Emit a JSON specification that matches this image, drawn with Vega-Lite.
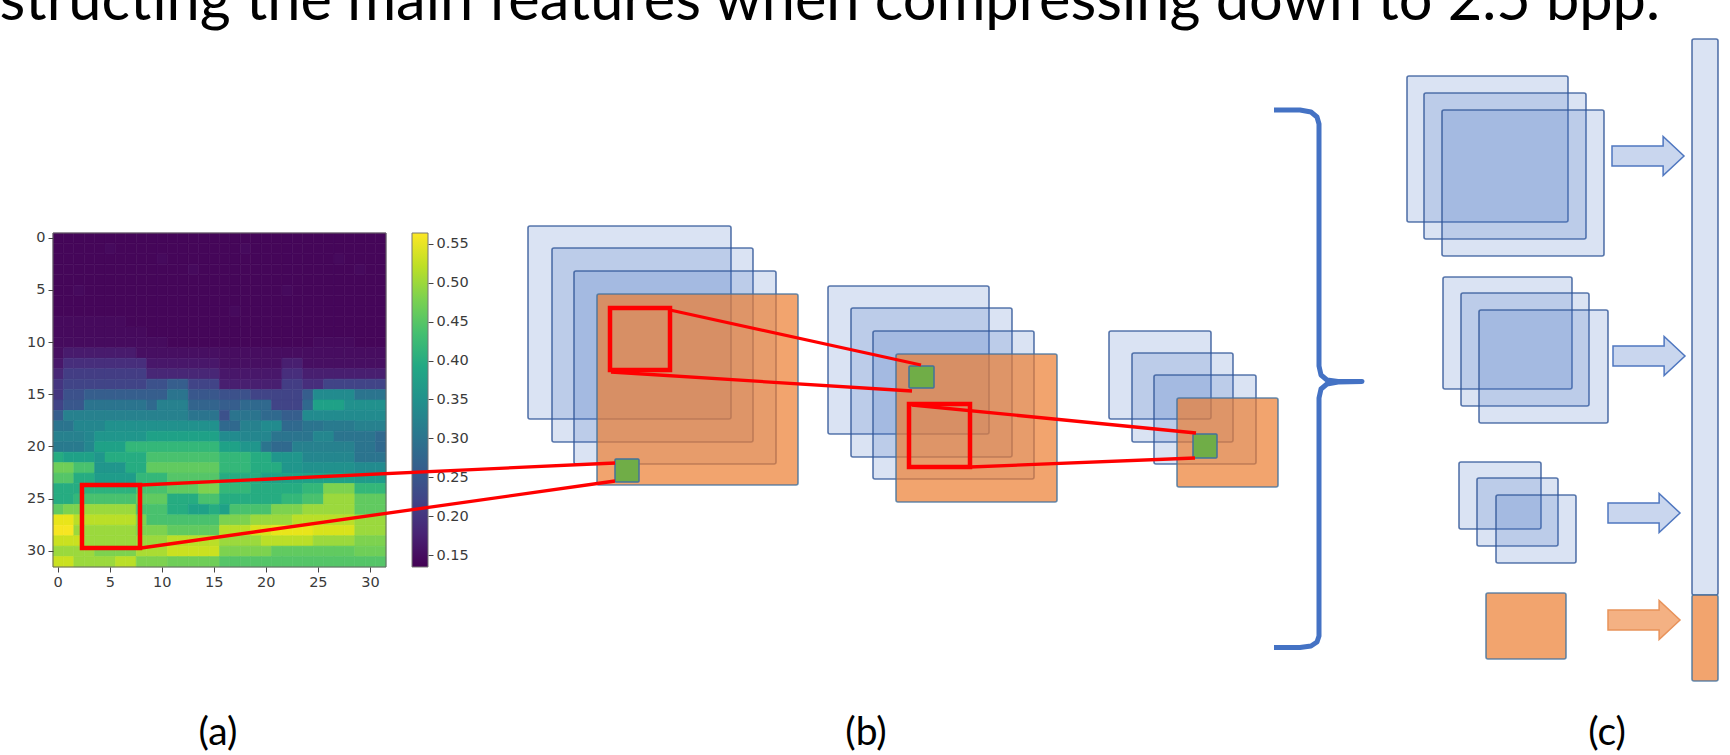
{
"$schema":"https://vega.github.io/schema/vega-lite/v6.json",
"width":1730,"height":755,"padding":0,"autosize":{"type":"none"},
"background":"#ffffff",
"config":{"view":{"stroke":null},"axis":{"grid":false}},
"datasets":{
"heat":[
{"r":0,"c":0,"v":0.14},{"r":0,"c":1,"v":0.14},{"r":0,"c":2,"v":0.14},{"r":0,"c":3,"v":0.14},{"r":0,"c":4,"v":0.14},{"r":0,"c":5,"v":0.14},{"r":0,"c":6,"v":0.14},{"r":0,"c":7,"v":0.14},{"r":0,"c":8,"v":0.14},{"r":0,"c":9,"v":0.14},{"r":0,"c":10,"v":0.14},{"r":0,"c":11,"v":0.14},{"r":0,"c":12,"v":0.14},{"r":0,"c":13,"v":0.14},{"r":0,"c":14,"v":0.14},{"r":0,"c":15,"v":0.14},{"r":0,"c":16,"v":0.14},{"r":0,"c":17,"v":0.14},{"r":0,"c":18,"v":0.14},{"r":0,"c":19,"v":0.14},{"r":0,"c":20,"v":0.14},{"r":0,"c":21,"v":0.14},{"r":0,"c":22,"v":0.14},{"r":0,"c":23,"v":0.14},{"r":0,"c":24,"v":0.14},{"r":0,"c":25,"v":0.14},{"r":0,"c":26,"v":0.14},{"r":0,"c":27,"v":0.14},{"r":0,"c":28,"v":0.14},{"r":0,"c":29,"v":0.14},{"r":0,"c":30,"v":0.14},{"r":0,"c":31,"v":0.14},
{"r":1,"c":0,"v":0.14},{"r":1,"c":1,"v":0.14},{"r":1,"c":2,"v":0.14},{"r":1,"c":3,"v":0.14},{"r":1,"c":4,"v":0.14},{"r":1,"c":5,"v":0.144},{"r":1,"c":6,"v":0.14},{"r":1,"c":7,"v":0.14},{"r":1,"c":8,"v":0.14},{"r":1,"c":9,"v":0.14},{"r":1,"c":10,"v":0.14},{"r":1,"c":11,"v":0.14},{"r":1,"c":12,"v":0.14},{"r":1,"c":13,"v":0.14},{"r":1,"c":14,"v":0.14},{"r":1,"c":15,"v":0.14},{"r":1,"c":16,"v":0.14},{"r":1,"c":17,"v":0.14},{"r":1,"c":18,"v":0.144},{"r":1,"c":19,"v":0.14},{"r":1,"c":20,"v":0.14},{"r":1,"c":21,"v":0.14},{"r":1,"c":22,"v":0.14},{"r":1,"c":23,"v":0.14},{"r":1,"c":24,"v":0.14},{"r":1,"c":25,"v":0.14},{"r":1,"c":26,"v":0.14},{"r":1,"c":27,"v":0.14},{"r":1,"c":28,"v":0.14},{"r":1,"c":29,"v":0.14},{"r":1,"c":30,"v":0.14},{"r":1,"c":31,"v":0.14},
{"r":2,"c":0,"v":0.14},{"r":2,"c":1,"v":0.14},{"r":2,"c":2,"v":0.14},{"r":2,"c":3,"v":0.14},{"r":2,"c":4,"v":0.14},{"r":2,"c":5,"v":0.14},{"r":2,"c":6,"v":0.14},{"r":2,"c":7,"v":0.14},{"r":2,"c":8,"v":0.14},{"r":2,"c":9,"v":0.14},{"r":2,"c":10,"v":0.144},{"r":2,"c":11,"v":0.14},{"r":2,"c":12,"v":0.14},{"r":2,"c":13,"v":0.14},{"r":2,"c":14,"v":0.14},{"r":2,"c":15,"v":0.14},{"r":2,"c":16,"v":0.14},{"r":2,"c":17,"v":0.14},{"r":2,"c":18,"v":0.14},{"r":2,"c":19,"v":0.14},{"r":2,"c":20,"v":0.14},{"r":2,"c":21,"v":0.14},{"r":2,"c":22,"v":0.14},{"r":2,"c":23,"v":0.14},{"r":2,"c":24,"v":0.14},{"r":2,"c":25,"v":0.14},{"r":2,"c":26,"v":0.14},{"r":2,"c":27,"v":0.144},{"r":2,"c":28,"v":0.14},{"r":2,"c":29,"v":0.14},{"r":2,"c":30,"v":0.14},{"r":2,"c":31,"v":0.14},
{"r":3,"c":0,"v":0.14},{"r":3,"c":1,"v":0.14},{"r":3,"c":2,"v":0.14},{"r":3,"c":3,"v":0.14},{"r":3,"c":4,"v":0.14},{"r":3,"c":5,"v":0.14},{"r":3,"c":6,"v":0.14},{"r":3,"c":7,"v":0.14},{"r":3,"c":8,"v":0.14},{"r":3,"c":9,"v":0.14},{"r":3,"c":10,"v":0.14},{"r":3,"c":11,"v":0.14},{"r":3,"c":12,"v":0.14},{"r":3,"c":13,"v":0.144},{"r":3,"c":14,"v":0.14},{"r":3,"c":15,"v":0.14},{"r":3,"c":16,"v":0.14},{"r":3,"c":17,"v":0.14},{"r":3,"c":18,"v":0.14},{"r":3,"c":19,"v":0.14},{"r":3,"c":20,"v":0.14},{"r":3,"c":21,"v":0.14},{"r":3,"c":22,"v":0.14},{"r":3,"c":23,"v":0.14},{"r":3,"c":24,"v":0.14},{"r":3,"c":25,"v":0.14},{"r":3,"c":26,"v":0.14},{"r":3,"c":27,"v":0.14},{"r":3,"c":28,"v":0.14},{"r":3,"c":29,"v":0.144},{"r":3,"c":30,"v":0.14},{"r":3,"c":31,"v":0.14},
{"r":4,"c":0,"v":0.14},{"r":4,"c":1,"v":0.14},{"r":4,"c":2,"v":0.14},{"r":4,"c":3,"v":0.14},{"r":4,"c":4,"v":0.14},{"r":4,"c":5,"v":0.14},{"r":4,"c":6,"v":0.14},{"r":4,"c":7,"v":0.14},{"r":4,"c":8,"v":0.14},{"r":4,"c":9,"v":0.14},{"r":4,"c":10,"v":0.14},{"r":4,"c":11,"v":0.14},{"r":4,"c":12,"v":0.14},{"r":4,"c":13,"v":0.14},{"r":4,"c":14,"v":0.14},{"r":4,"c":15,"v":0.14},{"r":4,"c":16,"v":0.14},{"r":4,"c":17,"v":0.14},{"r":4,"c":18,"v":0.14},{"r":4,"c":19,"v":0.14},{"r":4,"c":20,"v":0.14},{"r":4,"c":21,"v":0.14},{"r":4,"c":22,"v":0.14},{"r":4,"c":23,"v":0.14},{"r":4,"c":24,"v":0.14},{"r":4,"c":25,"v":0.14},{"r":4,"c":26,"v":0.14},{"r":4,"c":27,"v":0.14},{"r":4,"c":28,"v":0.14},{"r":4,"c":29,"v":0.14},{"r":4,"c":30,"v":0.14},{"r":4,"c":31,"v":0.14},
{"r":5,"c":0,"v":0.14},{"r":5,"c":1,"v":0.14},{"r":5,"c":2,"v":0.144},{"r":5,"c":3,"v":0.14},{"r":5,"c":4,"v":0.14},{"r":5,"c":5,"v":0.14},{"r":5,"c":6,"v":0.14},{"r":5,"c":7,"v":0.14},{"r":5,"c":8,"v":0.14},{"r":5,"c":9,"v":0.14},{"r":5,"c":10,"v":0.14},{"r":5,"c":11,"v":0.14},{"r":5,"c":12,"v":0.14},{"r":5,"c":13,"v":0.14},{"r":5,"c":14,"v":0.14},{"r":5,"c":15,"v":0.14},{"r":5,"c":16,"v":0.14},{"r":5,"c":17,"v":0.14},{"r":5,"c":18,"v":0.14},{"r":5,"c":19,"v":0.14},{"r":5,"c":20,"v":0.14},{"r":5,"c":21,"v":0.14},{"r":5,"c":22,"v":0.144},{"r":5,"c":23,"v":0.14},{"r":5,"c":24,"v":0.14},{"r":5,"c":25,"v":0.14},{"r":5,"c":26,"v":0.14},{"r":5,"c":27,"v":0.14},{"r":5,"c":28,"v":0.14},{"r":5,"c":29,"v":0.14},{"r":5,"c":30,"v":0.14},{"r":5,"c":31,"v":0.14},
{"r":6,"c":0,"v":0.14},{"r":6,"c":1,"v":0.14},{"r":6,"c":2,"v":0.14},{"r":6,"c":3,"v":0.14},{"r":6,"c":4,"v":0.14},{"r":6,"c":5,"v":0.14},{"r":6,"c":6,"v":0.14},{"r":6,"c":7,"v":0.14},{"r":6,"c":8,"v":0.14},{"r":6,"c":9,"v":0.14},{"r":6,"c":10,"v":0.14},{"r":6,"c":11,"v":0.14},{"r":6,"c":12,"v":0.14},{"r":6,"c":13,"v":0.14},{"r":6,"c":14,"v":0.14},{"r":6,"c":15,"v":0.14},{"r":6,"c":16,"v":0.14},{"r":6,"c":17,"v":0.14},{"r":6,"c":18,"v":0.14},{"r":6,"c":19,"v":0.14},{"r":6,"c":20,"v":0.14},{"r":6,"c":21,"v":0.14},{"r":6,"c":22,"v":0.14},{"r":6,"c":23,"v":0.14},{"r":6,"c":24,"v":0.14},{"r":6,"c":25,"v":0.14},{"r":6,"c":26,"v":0.14},{"r":6,"c":27,"v":0.14},{"r":6,"c":28,"v":0.14},{"r":6,"c":29,"v":0.14},{"r":6,"c":30,"v":0.14},{"r":6,"c":31,"v":0.14},
{"r":7,"c":0,"v":0.14},{"r":7,"c":1,"v":0.14},{"r":7,"c":2,"v":0.14},{"r":7,"c":3,"v":0.14},{"r":7,"c":4,"v":0.14},{"r":7,"c":5,"v":0.14},{"r":7,"c":6,"v":0.14},{"r":7,"c":7,"v":0.14},{"r":7,"c":8,"v":0.14},{"r":7,"c":9,"v":0.14},{"r":7,"c":10,"v":0.14},{"r":7,"c":11,"v":0.14},{"r":7,"c":12,"v":0.14},{"r":7,"c":13,"v":0.14},{"r":7,"c":14,"v":0.14},{"r":7,"c":15,"v":0.14},{"r":7,"c":16,"v":0.14},{"r":7,"c":17,"v":0.144},{"r":7,"c":18,"v":0.14},{"r":7,"c":19,"v":0.14},{"r":7,"c":20,"v":0.14},{"r":7,"c":21,"v":0.14},{"r":7,"c":22,"v":0.14},{"r":7,"c":23,"v":0.14},{"r":7,"c":24,"v":0.14},{"r":7,"c":25,"v":0.14},{"r":7,"c":26,"v":0.14},{"r":7,"c":27,"v":0.14},{"r":7,"c":28,"v":0.14},{"r":7,"c":29,"v":0.14},{"r":7,"c":30,"v":0.14},{"r":7,"c":31,"v":0.14},
{"r":8,"c":0,"v":0.144},{"r":8,"c":1,"v":0.144},{"r":8,"c":2,"v":0.144},{"r":8,"c":3,"v":0.144},{"r":8,"c":4,"v":0.144},{"r":8,"c":5,"v":0.144},{"r":8,"c":6,"v":0.144},{"r":8,"c":7,"v":0.14},{"r":8,"c":8,"v":0.14},{"r":8,"c":9,"v":0.14},{"r":8,"c":10,"v":0.14},{"r":8,"c":11,"v":0.14},{"r":8,"c":12,"v":0.14},{"r":8,"c":13,"v":0.14},{"r":8,"c":14,"v":0.14},{"r":8,"c":15,"v":0.14},{"r":8,"c":16,"v":0.14},{"r":8,"c":17,"v":0.14},{"r":8,"c":18,"v":0.14},{"r":8,"c":19,"v":0.14},{"r":8,"c":20,"v":0.14},{"r":8,"c":21,"v":0.14},{"r":8,"c":22,"v":0.14},{"r":8,"c":23,"v":0.14},{"r":8,"c":24,"v":0.14},{"r":8,"c":25,"v":0.14},{"r":8,"c":26,"v":0.14},{"r":8,"c":27,"v":0.14},{"r":8,"c":28,"v":0.14},{"r":8,"c":29,"v":0.14},{"r":8,"c":30,"v":0.14},{"r":8,"c":31,"v":0.14},
{"r":9,"c":0,"v":0.145},{"r":9,"c":1,"v":0.145},{"r":9,"c":2,"v":0.145},{"r":9,"c":3,"v":0.145},{"r":9,"c":4,"v":0.145},{"r":9,"c":5,"v":0.145},{"r":9,"c":6,"v":0.145},{"r":9,"c":7,"v":0.145},{"r":9,"c":8,"v":0.145},{"r":9,"c":9,"v":0.14},{"r":9,"c":10,"v":0.14},{"r":9,"c":11,"v":0.14},{"r":9,"c":12,"v":0.14},{"r":9,"c":13,"v":0.14},{"r":9,"c":14,"v":0.14},{"r":9,"c":15,"v":0.14},{"r":9,"c":16,"v":0.14},{"r":9,"c":17,"v":0.14},{"r":9,"c":18,"v":0.14},{"r":9,"c":19,"v":0.14},{"r":9,"c":20,"v":0.14},{"r":9,"c":21,"v":0.14},{"r":9,"c":22,"v":0.14},{"r":9,"c":23,"v":0.14},{"r":9,"c":24,"v":0.14},{"r":9,"c":25,"v":0.14},{"r":9,"c":26,"v":0.14},{"r":9,"c":27,"v":0.14},{"r":9,"c":28,"v":0.14},{"r":9,"c":29,"v":0.14},{"r":9,"c":30,"v":0.14},{"r":9,"c":31,"v":0.14},
{"r":10,"c":0,"v":0.146},{"r":10,"c":1,"v":0.146},{"r":10,"c":2,"v":0.146},{"r":10,"c":3,"v":0.146},{"r":10,"c":4,"v":0.146},{"r":10,"c":5,"v":0.146},{"r":10,"c":6,"v":0.146},{"r":10,"c":7,"v":0.146},{"r":10,"c":8,"v":0.146},{"r":10,"c":9,"v":0.146},{"r":10,"c":10,"v":0.146},{"r":10,"c":11,"v":0.14},{"r":10,"c":12,"v":0.14},{"r":10,"c":13,"v":0.14},{"r":10,"c":14,"v":0.14},{"r":10,"c":15,"v":0.14},{"r":10,"c":16,"v":0.14},{"r":10,"c":17,"v":0.14},{"r":10,"c":18,"v":0.14},{"r":10,"c":19,"v":0.14},{"r":10,"c":20,"v":0.14},{"r":10,"c":21,"v":0.14},{"r":10,"c":22,"v":0.14},{"r":10,"c":23,"v":0.14},{"r":10,"c":24,"v":0.14},{"r":10,"c":25,"v":0.145},{"r":10,"c":26,"v":0.145},{"r":10,"c":27,"v":0.145},{"r":10,"c":28,"v":0.145},{"r":10,"c":29,"v":0.14},{"r":10,"c":30,"v":0.14},{"r":10,"c":31,"v":0.14},
{"r":11,"c":0,"v":0.15},{"r":11,"c":1,"v":0.165},{"r":11,"c":2,"v":0.165},{"r":11,"c":3,"v":0.165},{"r":11,"c":4,"v":0.165},{"r":11,"c":5,"v":0.165},{"r":11,"c":6,"v":0.165},{"r":11,"c":7,"v":0.165},{"r":11,"c":8,"v":0.15},{"r":11,"c":9,"v":0.15},{"r":11,"c":10,"v":0.15},{"r":11,"c":11,"v":0.15},{"r":11,"c":12,"v":0.15},{"r":11,"c":13,"v":0.15},{"r":11,"c":14,"v":0.15},{"r":11,"c":15,"v":0.15},{"r":11,"c":16,"v":0.148},{"r":11,"c":17,"v":0.148},{"r":11,"c":18,"v":0.148},{"r":11,"c":19,"v":0.148},{"r":11,"c":20,"v":0.148},{"r":11,"c":21,"v":0.148},{"r":11,"c":22,"v":0.148},{"r":11,"c":23,"v":0.148},{"r":11,"c":24,"v":0.148},{"r":11,"c":25,"v":0.148},{"r":11,"c":26,"v":0.148},{"r":11,"c":27,"v":0.148},{"r":11,"c":28,"v":0.148},{"r":11,"c":29,"v":0.148},{"r":11,"c":30,"v":0.148},{"r":11,"c":31,"v":0.148},
{"r":12,"c":0,"v":0.16},{"r":12,"c":1,"v":0.19},{"r":12,"c":2,"v":0.19},{"r":12,"c":3,"v":0.19},{"r":12,"c":4,"v":0.19},{"r":12,"c":5,"v":0.19},{"r":12,"c":6,"v":0.19},{"r":12,"c":7,"v":0.19},{"r":12,"c":8,"v":0.19},{"r":12,"c":9,"v":0.16},{"r":12,"c":10,"v":0.16},{"r":12,"c":11,"v":0.16},{"r":12,"c":12,"v":0.16},{"r":12,"c":13,"v":0.16},{"r":12,"c":14,"v":0.16},{"r":12,"c":15,"v":0.16},{"r":12,"c":16,"v":0.15},{"r":12,"c":17,"v":0.15},{"r":12,"c":18,"v":0.15},{"r":12,"c":19,"v":0.15},{"r":12,"c":20,"v":0.15},{"r":12,"c":21,"v":0.15},{"r":12,"c":22,"v":0.17},{"r":12,"c":23,"v":0.17},{"r":12,"c":24,"v":0.15},{"r":12,"c":25,"v":0.15},{"r":12,"c":26,"v":0.15},{"r":12,"c":27,"v":0.15},{"r":12,"c":28,"v":0.15},{"r":12,"c":29,"v":0.15},{"r":12,"c":30,"v":0.15},{"r":12,"c":31,"v":0.15},
{"r":13,"c":0,"v":0.18},{"r":13,"c":1,"v":0.21},{"r":13,"c":2,"v":0.21},{"r":13,"c":3,"v":0.21},{"r":13,"c":4,"v":0.21},{"r":13,"c":5,"v":0.21},{"r":13,"c":6,"v":0.21},{"r":13,"c":7,"v":0.21},{"r":13,"c":8,"v":0.21},{"r":13,"c":9,"v":0.18},{"r":13,"c":10,"v":0.18},{"r":13,"c":11,"v":0.18},{"r":13,"c":12,"v":0.18},{"r":13,"c":13,"v":0.18},{"r":13,"c":14,"v":0.18},{"r":13,"c":15,"v":0.18},{"r":13,"c":16,"v":0.16},{"r":13,"c":17,"v":0.16},{"r":13,"c":18,"v":0.16},{"r":13,"c":19,"v":0.16},{"r":13,"c":20,"v":0.16},{"r":13,"c":21,"v":0.16},{"r":13,"c":22,"v":0.19},{"r":13,"c":23,"v":0.19},{"r":13,"c":24,"v":0.17},{"r":13,"c":25,"v":0.17},{"r":13,"c":26,"v":0.17},{"r":13,"c":27,"v":0.17},{"r":13,"c":28,"v":0.17},{"r":13,"c":29,"v":0.17},{"r":13,"c":30,"v":0.17},{"r":13,"c":31,"v":0.17},
{"r":14,"c":0,"v":0.2},{"r":14,"c":1,"v":0.22},{"r":14,"c":2,"v":0.22},{"r":14,"c":3,"v":0.22},{"r":14,"c":4,"v":0.22},{"r":14,"c":5,"v":0.22},{"r":14,"c":6,"v":0.22},{"r":14,"c":7,"v":0.22},{"r":14,"c":8,"v":0.22},{"r":14,"c":9,"v":0.24},{"r":14,"c":10,"v":0.24},{"r":14,"c":11,"v":0.26},{"r":14,"c":12,"v":0.26},{"r":14,"c":13,"v":0.22},{"r":14,"c":14,"v":0.22},{"r":14,"c":15,"v":0.22},{"r":14,"c":16,"v":0.17},{"r":14,"c":17,"v":0.17},{"r":14,"c":18,"v":0.17},{"r":14,"c":19,"v":0.17},{"r":14,"c":20,"v":0.17},{"r":14,"c":21,"v":0.17},{"r":14,"c":22,"v":0.21},{"r":14,"c":23,"v":0.21},{"r":14,"c":24,"v":0.19},{"r":14,"c":25,"v":0.19},{"r":14,"c":26,"v":0.22},{"r":14,"c":27,"v":0.22},{"r":14,"c":28,"v":0.22},{"r":14,"c":29,"v":0.22},{"r":14,"c":30,"v":0.22},{"r":14,"c":31,"v":0.22},
{"r":15,"c":0,"v":0.2},{"r":15,"c":1,"v":0.24},{"r":15,"c":2,"v":0.24},{"r":15,"c":3,"v":0.26},{"r":15,"c":4,"v":0.26},{"r":15,"c":5,"v":0.26},{"r":15,"c":6,"v":0.26},{"r":15,"c":7,"v":0.26},{"r":15,"c":8,"v":0.26},{"r":15,"c":9,"v":0.26},{"r":15,"c":10,"v":0.26},{"r":15,"c":11,"v":0.3},{"r":15,"c":12,"v":0.3},{"r":15,"c":13,"v":0.25},{"r":15,"c":14,"v":0.25},{"r":15,"c":15,"v":0.25},{"r":15,"c":16,"v":0.24},{"r":15,"c":17,"v":0.24},{"r":15,"c":18,"v":0.24},{"r":15,"c":19,"v":0.22},{"r":15,"c":20,"v":0.22},{"r":15,"c":21,"v":0.22},{"r":15,"c":22,"v":0.22},{"r":15,"c":23,"v":0.22},{"r":15,"c":24,"v":0.26},{"r":15,"c":25,"v":0.34},{"r":15,"c":26,"v":0.34},{"r":15,"c":27,"v":0.34},{"r":15,"c":28,"v":0.34},{"r":15,"c":29,"v":0.3},{"r":15,"c":30,"v":0.3},{"r":15,"c":31,"v":0.3},
{"r":16,"c":0,"v":0.22},{"r":16,"c":1,"v":0.25},{"r":16,"c":2,"v":0.25},{"r":16,"c":3,"v":0.3},{"r":16,"c":4,"v":0.3},{"r":16,"c":5,"v":0.3},{"r":16,"c":6,"v":0.3},{"r":16,"c":7,"v":0.3},{"r":16,"c":8,"v":0.3},{"r":16,"c":9,"v":0.28},{"r":16,"c":10,"v":0.32},{"r":16,"c":11,"v":0.32},{"r":16,"c":12,"v":0.32},{"r":16,"c":13,"v":0.27},{"r":16,"c":14,"v":0.27},{"r":16,"c":15,"v":0.27},{"r":16,"c":16,"v":0.26},{"r":16,"c":17,"v":0.26},{"r":16,"c":18,"v":0.28},{"r":16,"c":19,"v":0.28},{"r":16,"c":20,"v":0.28},{"r":16,"c":21,"v":0.22},{"r":16,"c":22,"v":0.22},{"r":16,"c":23,"v":0.22},{"r":16,"c":24,"v":0.28},{"r":16,"c":25,"v":0.38},{"r":16,"c":26,"v":0.38},{"r":16,"c":27,"v":0.38},{"r":16,"c":28,"v":0.35},{"r":16,"c":29,"v":0.35},{"r":16,"c":30,"v":0.35},{"r":16,"c":31,"v":0.35},
{"r":17,"c":0,"v":0.26},{"r":17,"c":1,"v":0.32},{"r":17,"c":2,"v":0.32},{"r":17,"c":3,"v":0.32},{"r":17,"c":4,"v":0.32},{"r":17,"c":5,"v":0.32},{"r":17,"c":6,"v":0.32},{"r":17,"c":7,"v":0.32},{"r":17,"c":8,"v":0.32},{"r":17,"c":9,"v":0.32},{"r":17,"c":10,"v":0.32},{"r":17,"c":11,"v":0.32},{"r":17,"c":12,"v":0.32},{"r":17,"c":13,"v":0.3},{"r":17,"c":14,"v":0.3},{"r":17,"c":15,"v":0.3},{"r":17,"c":16,"v":0.24},{"r":17,"c":17,"v":0.3},{"r":17,"c":18,"v":0.3},{"r":17,"c":19,"v":0.3},{"r":17,"c":20,"v":0.28},{"r":17,"c":21,"v":0.28},{"r":17,"c":22,"v":0.26},{"r":17,"c":23,"v":0.26},{"r":17,"c":24,"v":0.34},{"r":17,"c":25,"v":0.34},{"r":17,"c":26,"v":0.34},{"r":17,"c":27,"v":0.34},{"r":17,"c":28,"v":0.34},{"r":17,"c":29,"v":0.34},{"r":17,"c":30,"v":0.34},{"r":17,"c":31,"v":0.34},
{"r":18,"c":0,"v":0.3},{"r":18,"c":1,"v":0.3},{"r":18,"c":2,"v":0.33},{"r":18,"c":3,"v":0.33},{"r":18,"c":4,"v":0.33},{"r":18,"c":5,"v":0.35},{"r":18,"c":6,"v":0.35},{"r":18,"c":7,"v":0.35},{"r":18,"c":8,"v":0.35},{"r":18,"c":9,"v":0.35},{"r":18,"c":10,"v":0.35},{"r":18,"c":11,"v":0.35},{"r":18,"c":12,"v":0.35},{"r":18,"c":13,"v":0.35},{"r":18,"c":14,"v":0.35},{"r":18,"c":15,"v":0.35},{"r":18,"c":16,"v":0.28},{"r":18,"c":17,"v":0.28},{"r":18,"c":18,"v":0.32},{"r":18,"c":19,"v":0.32},{"r":18,"c":20,"v":0.34},{"r":18,"c":21,"v":0.34},{"r":18,"c":22,"v":0.28},{"r":18,"c":23,"v":0.28},{"r":18,"c":24,"v":0.3},{"r":18,"c":25,"v":0.3},{"r":18,"c":26,"v":0.31},{"r":18,"c":27,"v":0.31},{"r":18,"c":28,"v":0.31},{"r":18,"c":29,"v":0.32},{"r":18,"c":30,"v":0.32},{"r":18,"c":31,"v":0.32},
{"r":19,"c":0,"v":0.32},{"r":19,"c":1,"v":0.32},{"r":19,"c":2,"v":0.32},{"r":19,"c":3,"v":0.33},{"r":19,"c":4,"v":0.36},{"r":19,"c":5,"v":0.36},{"r":19,"c":6,"v":0.36},{"r":19,"c":7,"v":0.36},{"r":19,"c":8,"v":0.36},{"r":19,"c":9,"v":0.38},{"r":19,"c":10,"v":0.38},{"r":19,"c":11,"v":0.38},{"r":19,"c":12,"v":0.38},{"r":19,"c":13,"v":0.38},{"r":19,"c":14,"v":0.38},{"r":19,"c":15,"v":0.38},{"r":19,"c":16,"v":0.34},{"r":19,"c":17,"v":0.34},{"r":19,"c":18,"v":0.33},{"r":19,"c":19,"v":0.33},{"r":19,"c":20,"v":0.33},{"r":19,"c":21,"v":0.3},{"r":19,"c":22,"v":0.3},{"r":19,"c":23,"v":0.3},{"r":19,"c":24,"v":0.3},{"r":19,"c":25,"v":0.33},{"r":19,"c":26,"v":0.33},{"r":19,"c":27,"v":0.3},{"r":19,"c":28,"v":0.3},{"r":19,"c":29,"v":0.3},{"r":19,"c":30,"v":0.3},{"r":19,"c":31,"v":0.28},
{"r":20,"c":0,"v":0.31},{"r":20,"c":1,"v":0.31},{"r":20,"c":2,"v":0.31},{"r":20,"c":3,"v":0.33},{"r":20,"c":4,"v":0.38},{"r":20,"c":5,"v":0.38},{"r":20,"c":6,"v":0.38},{"r":20,"c":7,"v":0.42},{"r":20,"c":8,"v":0.42},{"r":20,"c":9,"v":0.42},{"r":20,"c":10,"v":0.42},{"r":20,"c":11,"v":0.42},{"r":20,"c":12,"v":0.42},{"r":20,"c":13,"v":0.42},{"r":20,"c":14,"v":0.42},{"r":20,"c":15,"v":0.42},{"r":20,"c":16,"v":0.38},{"r":20,"c":17,"v":0.38},{"r":20,"c":18,"v":0.36},{"r":20,"c":19,"v":0.36},{"r":20,"c":20,"v":0.3},{"r":20,"c":21,"v":0.28},{"r":20,"c":22,"v":0.28},{"r":20,"c":23,"v":0.32},{"r":20,"c":24,"v":0.32},{"r":20,"c":25,"v":0.32},{"r":20,"c":26,"v":0.32},{"r":20,"c":27,"v":0.32},{"r":20,"c":28,"v":0.32},{"r":20,"c":29,"v":0.3},{"r":20,"c":30,"v":0.3},{"r":20,"c":31,"v":0.28},
{"r":21,"c":0,"v":0.4},{"r":21,"c":1,"v":0.38},{"r":21,"c":2,"v":0.38},{"r":21,"c":3,"v":0.38},{"r":21,"c":4,"v":0.36},{"r":21,"c":5,"v":0.4},{"r":21,"c":6,"v":0.4},{"r":21,"c":7,"v":0.4},{"r":21,"c":8,"v":0.4},{"r":21,"c":9,"v":0.44},{"r":21,"c":10,"v":0.44},{"r":21,"c":11,"v":0.44},{"r":21,"c":12,"v":0.44},{"r":21,"c":13,"v":0.44},{"r":21,"c":14,"v":0.44},{"r":21,"c":15,"v":0.44},{"r":21,"c":16,"v":0.42},{"r":21,"c":17,"v":0.42},{"r":21,"c":18,"v":0.42},{"r":21,"c":19,"v":0.4},{"r":21,"c":20,"v":0.4},{"r":21,"c":21,"v":0.36},{"r":21,"c":22,"v":0.36},{"r":21,"c":23,"v":0.36},{"r":21,"c":24,"v":0.33},{"r":21,"c":25,"v":0.33},{"r":21,"c":26,"v":0.33},{"r":21,"c":27,"v":0.33},{"r":21,"c":28,"v":0.33},{"r":21,"c":29,"v":0.3},{"r":21,"c":30,"v":0.3},{"r":21,"c":31,"v":0.3},
{"r":22,"c":0,"v":0.47},{"r":22,"c":1,"v":0.47},{"r":22,"c":2,"v":0.44},{"r":22,"c":3,"v":0.44},{"r":22,"c":4,"v":0.36},{"r":22,"c":5,"v":0.36},{"r":22,"c":6,"v":0.36},{"r":22,"c":7,"v":0.4},{"r":22,"c":8,"v":0.4},{"r":22,"c":9,"v":0.46},{"r":22,"c":10,"v":0.46},{"r":22,"c":11,"v":0.46},{"r":22,"c":12,"v":0.46},{"r":22,"c":13,"v":0.46},{"r":22,"c":14,"v":0.46},{"r":22,"c":15,"v":0.46},{"r":22,"c":16,"v":0.42},{"r":22,"c":17,"v":0.42},{"r":22,"c":18,"v":0.42},{"r":22,"c":19,"v":0.4},{"r":22,"c":20,"v":0.4},{"r":22,"c":21,"v":0.4},{"r":22,"c":22,"v":0.36},{"r":22,"c":23,"v":0.36},{"r":22,"c":24,"v":0.35},{"r":22,"c":25,"v":0.35},{"r":22,"c":26,"v":0.35},{"r":22,"c":27,"v":0.35},{"r":22,"c":28,"v":0.35},{"r":22,"c":29,"v":0.34},{"r":22,"c":30,"v":0.34},{"r":22,"c":31,"v":0.34},
{"r":23,"c":0,"v":0.45},{"r":23,"c":1,"v":0.45},{"r":23,"c":2,"v":0.4},{"r":23,"c":3,"v":0.4},{"r":23,"c":4,"v":0.37},{"r":23,"c":5,"v":0.37},{"r":23,"c":6,"v":0.37},{"r":23,"c":7,"v":0.37},{"r":23,"c":8,"v":0.42},{"r":23,"c":9,"v":0.42},{"r":23,"c":10,"v":0.42},{"r":23,"c":11,"v":0.45},{"r":23,"c":12,"v":0.45},{"r":23,"c":13,"v":0.45},{"r":23,"c":14,"v":0.45},{"r":23,"c":15,"v":0.45},{"r":23,"c":16,"v":0.4},{"r":23,"c":17,"v":0.4},{"r":23,"c":18,"v":0.4},{"r":23,"c":19,"v":0.4},{"r":23,"c":20,"v":0.38},{"r":23,"c":21,"v":0.38},{"r":23,"c":22,"v":0.38},{"r":23,"c":23,"v":0.38},{"r":23,"c":24,"v":0.38},{"r":23,"c":25,"v":0.38},{"r":23,"c":26,"v":0.38},{"r":23,"c":27,"v":0.38},{"r":23,"c":28,"v":0.38},{"r":23,"c":29,"v":0.37},{"r":23,"c":30,"v":0.37},{"r":23,"c":31,"v":0.37},
{"r":24,"c":0,"v":0.4},{"r":24,"c":1,"v":0.4},{"r":24,"c":2,"v":0.4},{"r":24,"c":3,"v":0.41},{"r":24,"c":4,"v":0.41},{"r":24,"c":5,"v":0.41},{"r":24,"c":6,"v":0.41},{"r":24,"c":7,"v":0.41},{"r":24,"c":8,"v":0.44},{"r":24,"c":9,"v":0.44},{"r":24,"c":10,"v":0.44},{"r":24,"c":11,"v":0.46},{"r":24,"c":12,"v":0.46},{"r":24,"c":13,"v":0.46},{"r":24,"c":14,"v":0.48},{"r":24,"c":15,"v":0.48},{"r":24,"c":16,"v":0.42},{"r":24,"c":17,"v":0.42},{"r":24,"c":18,"v":0.42},{"r":24,"c":19,"v":0.4},{"r":24,"c":20,"v":0.4},{"r":24,"c":21,"v":0.4},{"r":24,"c":22,"v":0.4},{"r":24,"c":23,"v":0.4},{"r":24,"c":24,"v":0.42},{"r":24,"c":25,"v":0.42},{"r":24,"c":26,"v":0.48},{"r":24,"c":27,"v":0.48},{"r":24,"c":28,"v":0.48},{"r":24,"c":29,"v":0.42},{"r":24,"c":30,"v":0.42},{"r":24,"c":31,"v":0.42},
{"r":25,"c":0,"v":0.4},{"r":25,"c":1,"v":0.4},{"r":25,"c":2,"v":0.42},{"r":25,"c":3,"v":0.44},{"r":25,"c":4,"v":0.44},{"r":25,"c":5,"v":0.44},{"r":25,"c":6,"v":0.44},{"r":25,"c":7,"v":0.44},{"r":25,"c":8,"v":0.46},{"r":25,"c":9,"v":0.46},{"r":25,"c":10,"v":0.46},{"r":25,"c":11,"v":0.4},{"r":25,"c":12,"v":0.4},{"r":25,"c":13,"v":0.4},{"r":25,"c":14,"v":0.44},{"r":25,"c":15,"v":0.44},{"r":25,"c":16,"v":0.4},{"r":25,"c":17,"v":0.4},{"r":25,"c":18,"v":0.4},{"r":25,"c":19,"v":0.4},{"r":25,"c":20,"v":0.4},{"r":25,"c":21,"v":0.4},{"r":25,"c":22,"v":0.42},{"r":25,"c":23,"v":0.42},{"r":25,"c":24,"v":0.44},{"r":25,"c":25,"v":0.44},{"r":25,"c":26,"v":0.5},{"r":25,"c":27,"v":0.5},{"r":25,"c":28,"v":0.5},{"r":25,"c":29,"v":0.46},{"r":25,"c":30,"v":0.46},{"r":25,"c":31,"v":0.46},
{"r":26,"c":0,"v":0.46},{"r":26,"c":1,"v":0.48},{"r":26,"c":2,"v":0.48},{"r":26,"c":3,"v":0.5},{"r":26,"c":4,"v":0.5},{"r":26,"c":5,"v":0.5},{"r":26,"c":6,"v":0.5},{"r":26,"c":7,"v":0.5},{"r":26,"c":8,"v":0.44},{"r":26,"c":9,"v":0.44},{"r":26,"c":10,"v":0.44},{"r":26,"c":11,"v":0.4},{"r":26,"c":12,"v":0.4},{"r":26,"c":13,"v":0.38},{"r":26,"c":14,"v":0.38},{"r":26,"c":15,"v":0.4},{"r":26,"c":16,"v":0.38},{"r":26,"c":17,"v":0.44},{"r":26,"c":18,"v":0.44},{"r":26,"c":19,"v":0.44},{"r":26,"c":20,"v":0.44},{"r":26,"c":21,"v":0.48},{"r":26,"c":22,"v":0.48},{"r":26,"c":23,"v":0.48},{"r":26,"c":24,"v":0.5},{"r":26,"c":25,"v":0.5},{"r":26,"c":26,"v":0.5},{"r":26,"c":27,"v":0.5},{"r":26,"c":28,"v":0.5},{"r":26,"c":29,"v":0.46},{"r":26,"c":30,"v":0.46},{"r":26,"c":31,"v":0.46},
{"r":27,"c":0,"v":0.55},{"r":27,"c":1,"v":0.55},{"r":27,"c":2,"v":0.52},{"r":27,"c":3,"v":0.52},{"r":27,"c":4,"v":0.52},{"r":27,"c":5,"v":0.52},{"r":27,"c":6,"v":0.52},{"r":27,"c":7,"v":0.52},{"r":27,"c":8,"v":0.48},{"r":27,"c":9,"v":0.44},{"r":27,"c":10,"v":0.44},{"r":27,"c":11,"v":0.44},{"r":27,"c":12,"v":0.44},{"r":27,"c":13,"v":0.44},{"r":27,"c":14,"v":0.44},{"r":27,"c":15,"v":0.44},{"r":27,"c":16,"v":0.48},{"r":27,"c":17,"v":0.48},{"r":27,"c":18,"v":0.48},{"r":27,"c":19,"v":0.5},{"r":27,"c":20,"v":0.5},{"r":27,"c":21,"v":0.5},{"r":27,"c":22,"v":0.5},{"r":27,"c":23,"v":0.52},{"r":27,"c":24,"v":0.52},{"r":27,"c":25,"v":0.52},{"r":27,"c":26,"v":0.52},{"r":27,"c":27,"v":0.52},{"r":27,"c":28,"v":0.52},{"r":27,"c":29,"v":0.5},{"r":27,"c":30,"v":0.5},{"r":27,"c":31,"v":0.5},
{"r":28,"c":0,"v":0.56},{"r":28,"c":1,"v":0.56},{"r":28,"c":2,"v":0.5},{"r":28,"c":3,"v":0.5},{"r":28,"c":4,"v":0.5},{"r":28,"c":5,"v":0.5},{"r":28,"c":6,"v":0.5},{"r":28,"c":7,"v":0.5},{"r":28,"c":8,"v":0.48},{"r":28,"c":9,"v":0.48},{"r":28,"c":10,"v":0.48},{"r":28,"c":11,"v":0.46},{"r":28,"c":12,"v":0.46},{"r":28,"c":13,"v":0.46},{"r":28,"c":14,"v":0.46},{"r":28,"c":15,"v":0.46},{"r":28,"c":16,"v":0.52},{"r":28,"c":17,"v":0.52},{"r":28,"c":18,"v":0.52},{"r":28,"c":19,"v":0.54},{"r":28,"c":20,"v":0.54},{"r":28,"c":21,"v":0.55},{"r":28,"c":22,"v":0.55},{"r":28,"c":23,"v":0.55},{"r":28,"c":24,"v":0.55},{"r":28,"c":25,"v":0.54},{"r":28,"c":26,"v":0.54},{"r":28,"c":27,"v":0.54},{"r":28,"c":28,"v":0.54},{"r":28,"c":29,"v":0.5},{"r":28,"c":30,"v":0.5},{"r":28,"c":31,"v":0.5},
{"r":29,"c":0,"v":0.53},{"r":29,"c":1,"v":0.53},{"r":29,"c":2,"v":0.53},{"r":29,"c":3,"v":0.5},{"r":29,"c":4,"v":0.5},{"r":29,"c":5,"v":0.5},{"r":29,"c":6,"v":0.5},{"r":29,"c":7,"v":0.5},{"r":29,"c":8,"v":0.5},{"r":29,"c":9,"v":0.5},{"r":29,"c":10,"v":0.5},{"r":29,"c":11,"v":0.52},{"r":29,"c":12,"v":0.52},{"r":29,"c":13,"v":0.52},{"r":29,"c":14,"v":0.52},{"r":29,"c":15,"v":0.52},{"r":29,"c":16,"v":0.5},{"r":29,"c":17,"v":0.5},{"r":29,"c":18,"v":0.5},{"r":29,"c":19,"v":0.5},{"r":29,"c":20,"v":0.52},{"r":29,"c":21,"v":0.52},{"r":29,"c":22,"v":0.52},{"r":29,"c":23,"v":0.52},{"r":29,"c":24,"v":0.52},{"r":29,"c":25,"v":0.5},{"r":29,"c":26,"v":0.5},{"r":29,"c":27,"v":0.5},{"r":29,"c":28,"v":0.5},{"r":29,"c":29,"v":0.48},{"r":29,"c":30,"v":0.48},{"r":29,"c":31,"v":0.48},
{"r":30,"c":0,"v":0.5},{"r":30,"c":1,"v":0.5},{"r":30,"c":2,"v":0.5},{"r":30,"c":3,"v":0.5},{"r":30,"c":4,"v":0.48},{"r":30,"c":5,"v":0.48},{"r":30,"c":6,"v":0.48},{"r":30,"c":7,"v":0.48},{"r":30,"c":8,"v":0.51},{"r":30,"c":9,"v":0.51},{"r":30,"c":10,"v":0.51},{"r":30,"c":11,"v":0.53},{"r":30,"c":12,"v":0.53},{"r":30,"c":13,"v":0.53},{"r":30,"c":14,"v":0.53},{"r":30,"c":15,"v":0.53},{"r":30,"c":16,"v":0.48},{"r":30,"c":17,"v":0.48},{"r":30,"c":18,"v":0.48},{"r":30,"c":19,"v":0.48},{"r":30,"c":20,"v":0.48},{"r":30,"c":21,"v":0.46},{"r":30,"c":22,"v":0.46},{"r":30,"c":23,"v":0.46},{"r":30,"c":24,"v":0.46},{"r":30,"c":25,"v":0.46},{"r":30,"c":26,"v":0.46},{"r":30,"c":27,"v":0.46},{"r":30,"c":28,"v":0.46},{"r":30,"c":29,"v":0.47},{"r":30,"c":30,"v":0.47},{"r":30,"c":31,"v":0.47},
{"r":31,"c":0,"v":0.53},{"r":31,"c":1,"v":0.53},{"r":31,"c":2,"v":0.5},{"r":31,"c":3,"v":0.5},{"r":31,"c":4,"v":0.5},{"r":31,"c":5,"v":0.5},{"r":31,"c":6,"v":0.52},{"r":31,"c":7,"v":0.52},{"r":31,"c":8,"v":0.48},{"r":31,"c":9,"v":0.48},{"r":31,"c":10,"v":0.48},{"r":31,"c":11,"v":0.47},{"r":31,"c":12,"v":0.47},{"r":31,"c":13,"v":0.47},{"r":31,"c":14,"v":0.47},{"r":31,"c":15,"v":0.47},{"r":31,"c":16,"v":0.45},{"r":31,"c":17,"v":0.45},{"r":31,"c":18,"v":0.45},{"r":31,"c":19,"v":0.45},{"r":31,"c":20,"v":0.45},{"r":31,"c":21,"v":0.45},{"r":31,"c":22,"v":0.45},{"r":31,"c":23,"v":0.45},{"r":31,"c":24,"v":0.45},{"r":31,"c":25,"v":0.45},{"r":31,"c":26,"v":0.45},{"r":31,"c":27,"v":0.45},{"r":31,"c":28,"v":0.45},{"r":31,"c":29,"v":0.45},{"r":31,"c":30,"v":0.45},{"r":31,"c":31,"v":0.45}
],
"frame":[{"x":53,"y":233,"x2":386,"y2":567}],
"blue":[
{"x":528,"y":226,"x2":731,"y2":419},{"x":552,"y":248,"x2":753,"y2":442},{"x":574,"y":271,"x2":776,"y2":464},
{"x":828,"y":286,"x2":989,"y2":434},{"x":851,"y":308,"x2":1012,"y2":457},{"x":873,"y":331,"x2":1034,"y2":479},
{"x":1109,"y":331,"x2":1211,"y2":419},{"x":1132,"y":353,"x2":1233,"y2":442},{"x":1154,"y":375,"x2":1256,"y2":464},
{"x":1407,"y":76,"x2":1568,"y2":222},{"x":1424,"y":93,"x2":1586,"y2":239},{"x":1442,"y":110,"x2":1604,"y2":256},
{"x":1443,"y":277,"x2":1572,"y2":389},{"x":1461,"y":293,"x2":1589,"y2":406},{"x":1479,"y":310,"x2":1608,"y2":423},
{"x":1459,"y":462,"x2":1541,"y2":529},{"x":1477,"y":478,"x2":1558,"y2":546},{"x":1496,"y":495,"x2":1576,"y2":563},
{"x":1692,"y":39,"x2":1718,"y2":595}
],
"orange":[
{"x":597,"y":294,"x2":798,"y2":485},{"x":896,"y":354,"x2":1057,"y2":502},{"x":1177,"y":398,"x2":1278,"y2":487},
{"x":1486,"y":593,"x2":1566,"y2":659},{"x":1692,"y":595,"x2":1718,"y2":681}
],
"green":[
{"x":615,"y":459,"x2":639,"y2":482},{"x":909,"y":366,"x2":934,"y2":388},{"x":1193,"y":434,"x2":1217,"y2":458}
],
"redbox":[
{"x":82,"y":485,"x2":140,"y2":548},{"x":610,"y":308,"x2":670,"y2":370},{"x":909,"y":404,"x2":970,"y2":467}
],
"redline":[
{"x":141,"y":485,"x2":615,"y2":463},{"x":141,"y":548,"x2":615,"y2":481},
{"x":670,"y":310,"x2":921,"y2":365},{"x":611,"y":372,"x2":912,"y2":391},
{"x":912,"y":405,"x2":1196,"y2":433},{"x":970,"y":467,"x2":1195,"y2":458}
],
"brace":[
{"i":1,"x":1274,"y":110},{"i":2,"x":1300,"y":110},{"i":3,"x":1311,"y":112},{"i":4,"x":1317,"y":117},{"i":5,"x":1319,"y":124},{"i":6,"x":1319,"y":366},{"i":7,"x":1321,"y":375},{"i":8,"x":1327,"y":380},{"i":9,"x":1338,"y":381.5},{"i":10,"x":1362,"y":381.5},{"i":11,"x":1338,"y":382},{"i":12,"x":1327,"y":384},{"i":13,"x":1321,"y":389},{"i":14,"x":1319,"y":398},{"i":15,"x":1319,"y":636},{"i":16,"x":1317,"y":642},{"i":17,"x":1311,"y":646},{"i":18,"x":1300,"y":647.5},{"i":19,"x":1274,"y":647.5}
],
"arrows":[
{"x":1648,"y":156,"k":"b"},{"x":1649,"y":356,"k":"b"},{"x":1644,"y":513,"k":"b"},{"x":1644,"y":620,"k":"o"}
],
"title":[{"x":1660,"y":20,"t":"reconstructing the main features when compressing down to 2.5 bpp."}],
"labels":[{"x":218,"y":745,"t":"(a)"},{"x":866,"y":745,"t":"(b)"},{"x":1607,"y":745,"t":"(c)"}]
},
"layer":[
{
"data":{"name":"heat"},
"mark":{"type":"rect","strokeWidth":0.6},
"encoding":{
"x":{"field":"c","type":"ordinal","scale":{"range":[53,386],"paddingInner":0,"paddingOuter":0},
"axis":{"orient":"bottom","offset":-188,"values":[0,5,10,15,20,25,30],"labelAngle":0,"domain":false,"ticks":true,"tickSize":5,"tickColor":"#444","tickWidth":1,"labelFont":"DejaVu Sans","labelFontSize":14.5,"labelColor":"#3a3a3a","labelPadding":3,"title":null,"grid":false}},
"y":{"field":"r","type":"ordinal","scale":{"range":[233,567],"paddingInner":0,"paddingOuter":0},
"axis":{"orient":"left","offset":-53,"values":[0,5,10,15,20,25,30],"domain":false,"ticks":true,"tickSize":5,"tickColor":"#444","tickWidth":1,"labelFont":"DejaVu Sans","labelFontSize":14.5,"labelColor":"#3a3a3a","labelPadding":3,"title":null,"grid":false}},
"fill":{"field":"v","type":"quantitative","scale":{"scheme":"viridis","domain":[0.1346,0.564]},"legend":null},
"stroke":{"field":"v","type":"quantitative","scale":{"scheme":"viridis","domain":[0.1346,0.564]},"legend":null}
}
},
{
"data":{"values":[{"a":1}]},
"mark":{"type":"rect","stroke":"#777","strokeWidth":1,
"fill":{"gradient":"linear","x1":0,"y1":1,"x2":0,"y2":0,"stops":[
{"offset":0,"color":"#440154"},{"offset":0.1,"color":"#482475"},{"offset":0.2,"color":"#414487"},{"offset":0.3,"color":"#355f8d"},{"offset":0.4,"color":"#2a788e"},{"offset":0.5,"color":"#21918c"},{"offset":0.6,"color":"#22a884"},{"offset":0.7,"color":"#44bf70"},{"offset":0.8,"color":"#7ad151"},{"offset":0.9,"color":"#bddf26"},{"offset":1,"color":"#fde725"}]}},
"encoding":{
"x":{"datum":0,"type":"quantitative","scale":{"domain":[0,1],"range":[412,428],"nice":false,"zero":false},"axis":null},
"x2":{"datum":1},
"y":{"datum":0.1346,"type":"quantitative","scale":{"domain":[0.1346,0.564],"range":[567,233],"nice":false,"zero":false},
"axis":{"orient":"right","offset":-1302,"values":[0.15,0.2,0.25,0.3,0.35,0.4,0.45,0.5,0.55],"format":".2f","domain":false,"ticks":true,"tickSize":5,"tickColor":"#444","tickWidth":1,"labelFont":"DejaVu Sans","labelFontSize":14.5,"labelColor":"#3a3a3a","labelPadding":3,"title":null,"grid":false}},
"y2":{"datum":0.564}
}
},
{
"encoding":{
"x":{"field":"x","type":"quantitative","scale":{"domain":[0,1730],"range":[0,1730],"nice":false,"zero":false},"axis":null},
"y":{"field":"y","type":"quantitative","scale":{"domain":[0,755],"range":[0,755],"nice":false,"zero":false},"axis":null}
},
"layer":[
{"data":{"name":"frame"},"mark":{"type":"rect","fillOpacity":0,"stroke":"#666","strokeWidth":1},"encoding":{"x2":{"field":"x2"},"y2":{"field":"y2"}}},
{"data":{"name":"blue"},"mark":{"type":"rect","fill":"#4472C4","fillOpacity":0.2,"stroke":"#2F5597","strokeOpacity":0.8,"strokeWidth":1.6,"cornerRadius":2},"encoding":{"x2":{"field":"x2"},"y2":{"field":"y2"}}},
{"data":{"name":"orange"},"mark":{"type":"rect","fill":"#ED7D31","fillOpacity":0.7,"stroke":"#41719C","strokeOpacity":0.8,"strokeWidth":1.6,"cornerRadius":2},"encoding":{"x2":{"field":"x2"},"y2":{"field":"y2"}}},
{"data":{"name":"green"},"mark":{"type":"rect","fill":"#70AD47","stroke":"#41719C","strokeWidth":1.5,"cornerRadius":1},"encoding":{"x2":{"field":"x2"},"y2":{"field":"y2"}}},
{"data":{"name":"redbox"},"mark":{"type":"rect","fillOpacity":0,"stroke":"#FF0000","strokeWidth":4.5},"encoding":{"x2":{"field":"x2"},"y2":{"field":"y2"}}},
{"data":{"name":"redline"},"mark":{"type":"rule","color":"#FF0000","strokeWidth":3.3},"encoding":{"x2":{"field":"x2"},"y2":{"field":"y2"}}},
{"data":{"name":"brace"},"mark":{"type":"line","color":"#4472C4","strokeWidth":5,"strokeJoin":"round","strokeCap":"butt"},"encoding":{"order":{"field":"i","type":"quantitative"}}},
{"data":{"name":"arrows"},"transform":[{"filter":"datum.k === 'b'"}],"mark":{"type":"point","shape":"M -1 -0.28 L 0.42 -0.28 L 0.42 -0.54 L 1 0 L 0.42 0.54 L 0.42 0.28 L -1 0.28 Z","size":5184,"filled":true,"fill":"#C9D6EE","fillOpacity":1,"stroke":"#4F77C0","strokeWidth":1.5,"opacity":1},"encoding":{}},
{"data":{"name":"arrows"},"transform":[{"filter":"datum.k === 'o'"}],"mark":{"type":"point","shape":"M -1 -0.28 L 0.42 -0.28 L 0.42 -0.54 L 1 0 L 0.42 0.54 L 0.42 0.28 L -1 0.28 Z","size":5184,"filled":true,"fill":"#F4B183","fillOpacity":1,"stroke":"#E8925A","strokeWidth":1.5,"opacity":1},"encoding":{}},
{"data":{"name":"title"},"mark":{"type":"text","align":"right","baseline":"alphabetic","font":"Lato","fontSize":59.5,"color":"#000000"},"encoding":{"text":{"field":"t"}}},
{"data":{"name":"labels"},"mark":{"type":"text","align":"center","baseline":"alphabetic","font":"Lato","fontSize":39,"color":"#000000"},"encoding":{"text":{"field":"t"}}}
]
}
],
"resolve":{"scale":{"x":"independent","y":"independent"},"axis":{"x":"independent","y":"independent"}}
}
